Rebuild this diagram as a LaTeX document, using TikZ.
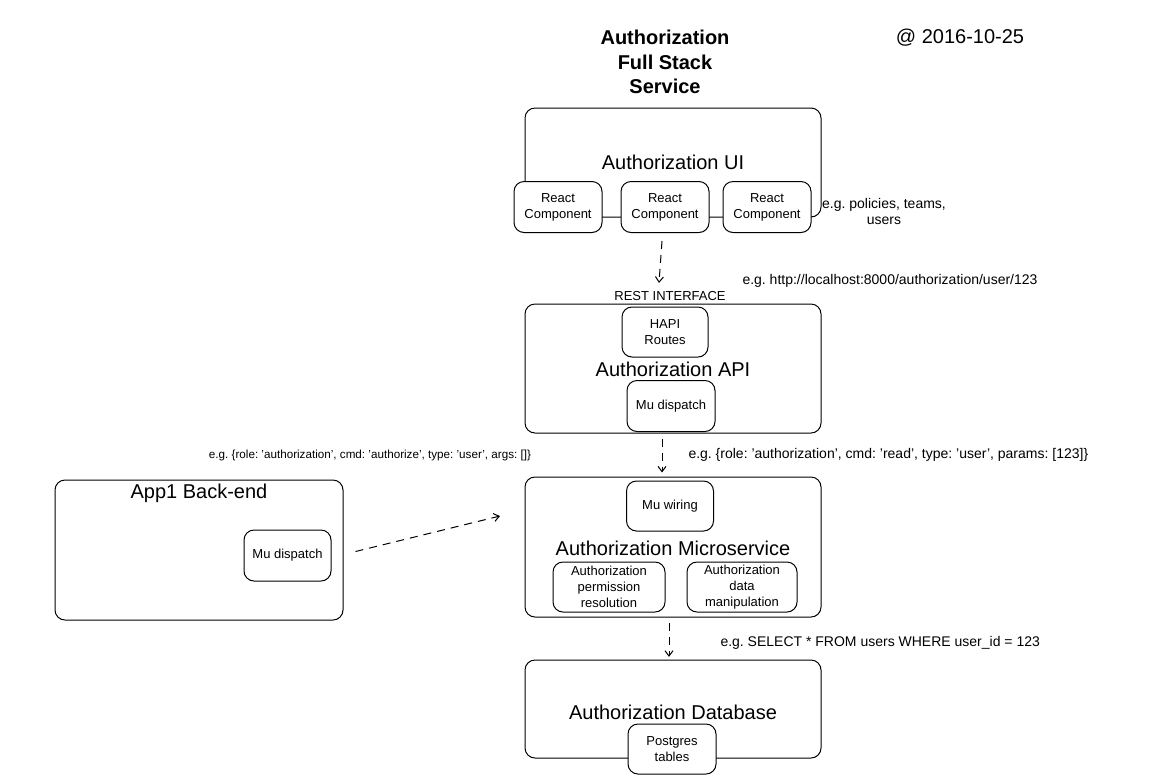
\documentclass[tikz,border=0pt]{standalone}
\usepackage{fontspec}
\setmainfont{Liberation Sans}
\usetikzlibrary{arrows.meta}
\begin{document}
\frenchspacing
\begin{tikzpicture}[x=0.75pt,y=-0.75pt,
  line width=0.75pt,
  every node/.append style={execute at begin node=\frenchspacing},
  box/.style={draw=black, fill=white, rounded corners=7.5pt, inner sep=0pt, align=center, font=\fontsize{9.75pt}{12pt}\selectfont},
  big/.style={font=\fontsize{15pt}{18pt}\selectfont, inner sep=0pt},
  note/.style={font=\fontsize{10.5pt}{12pt}\selectfont, inner sep=0pt, align=center},
  flow/.style={draw=black, dash pattern=on 6pt off 4.5pt, -{Straight Barb[length=4pt,width=6pt,line width=0.75pt]}}
]
\useasboundingbox (0,0) rectangle (1155,783);

% title and date
\node[font=\fontsize{15pt}{18.4pt}\selectfont\bfseries, align=center, inner sep=0pt] (title) at (665,62) {Authorization\\Full Stack\\Service};
\node[big] (date) at (960,38) {@ 2016-10-25};

% Authorization UI
\node[box, minimum width=296*0.75pt, minimum height=109*0.75pt] (ui) at (673,162.5) {};
\node[big] (uilbl) at (673,162) {Authorization UI};
\node[box, minimum width=88*0.75pt, minimum height=51*0.75pt] (comp1) at (558,207) {React\\Component};
\node[box, minimum width=88*0.75pt, minimum height=51*0.75pt] (comp2) at (665,207) {React\\Component};
\node[box, minimum width=88*0.75pt, minimum height=51*0.75pt] (comp3) at (767,207) {React\\Component};
\node[note] (uinote) at (884,211) {e.g. policies, teams,\\users};

% REST
\node[inner sep=0pt, font=\fontsize{9.75pt}{12pt}\selectfont] (rest) at (670,296) {REST INTERFACE};
\node[note, anchor=west] (httpnote) at (742,281) {e.g. http://localhost:8000/authorization/user/123};

% Authorization API
\node[box, minimum width=296*0.75pt, minimum height=129*0.75pt] (api) at (673,368.5) {};
\node[box, minimum width=86*0.75pt, minimum height=50*0.75pt] (hapi) at (665,332) {HAPI\\Routes};
\node[big] (apilbl) at (673,369) {Authorization API};
\node[box, minimum width=88*0.75pt, minimum height=51*0.75pt] (apimu) at (671,406) {Mu dispatch};

% annotations
\node[inner sep=0pt, font=\fontsize{8.75pt}{11pt}\selectfont] (leftnote) at (370,455) {e.g. \{role: 'authorization', cmd: 'authorize', type: 'user', args: []\}};
\node[note, anchor=west] (rightnote) at (688,455) {e.g. \{role: 'authorization', cmd: 'read', type: 'user', params: [123]\}};

% Microservice
\node[box, minimum width=296*0.75pt, minimum height=140*0.75pt] (micro) at (673,547) {};
\node[box, minimum width=87*0.75pt, minimum height=50*0.75pt] (wiring) at (670,506) {Mu wiring};
\node[big] (microlbl) at (673,548) {Authorization Microservice};
\node[box, minimum width=112*0.75pt, minimum height=50*0.75pt] (perm) at (609,587) {Authorization\\permission\\resolution};
\node[box, minimum width=110*0.75pt, minimum height=50*0.75pt] (data) at (742,587) {Authorization\\data\\manipulation};

% Database
\node[note, anchor=west] (sqlnote) at (720,643) {e.g. SELECT * FROM users WHERE user\_id = 123};
\node[box, minimum width=296*0.75pt, minimum height=98*0.75pt] (db) at (673,709) {};
\node[big] (dblbl) at (673,712) {Authorization Database};
\node[box, minimum width=88*0.75pt, minimum height=50*0.75pt] (pg) at (672,749) {Postgres\\tables};

% App1
\node[box, minimum width=288*0.75pt, minimum height=140*0.75pt] (app) at (199,550) {};
\node[big] (applbl) at (199,493) {App1 Back-end};
\node[box, minimum width=87*0.75pt, minimum height=51*0.75pt] (appmu) at (287.5,555.5) {Mu dispatch};

% connectors
\coordinate (appin) at (500,516);
\draw[flow] ([xshift=-2.25pt,yshift=-6pt]comp2.south) -- ([xshift=-8.25pt,yshift=6pt]rest.north);
\draw[flow] ([xshift=-8.25pt,yshift=-3.75pt]api.south) -- ([xshift=-8.25pt,yshift=3pt]micro.north);
\draw[flow] ([xshift=-3pt,yshift=-3.75pt]micro.south) -- ([xshift=-3pt,yshift=2pt]db.north);
\draw[flow] ([xshift=18pt,yshift=3pt]appmu.east) -- (appin);
\end{tikzpicture}
\end{document}
